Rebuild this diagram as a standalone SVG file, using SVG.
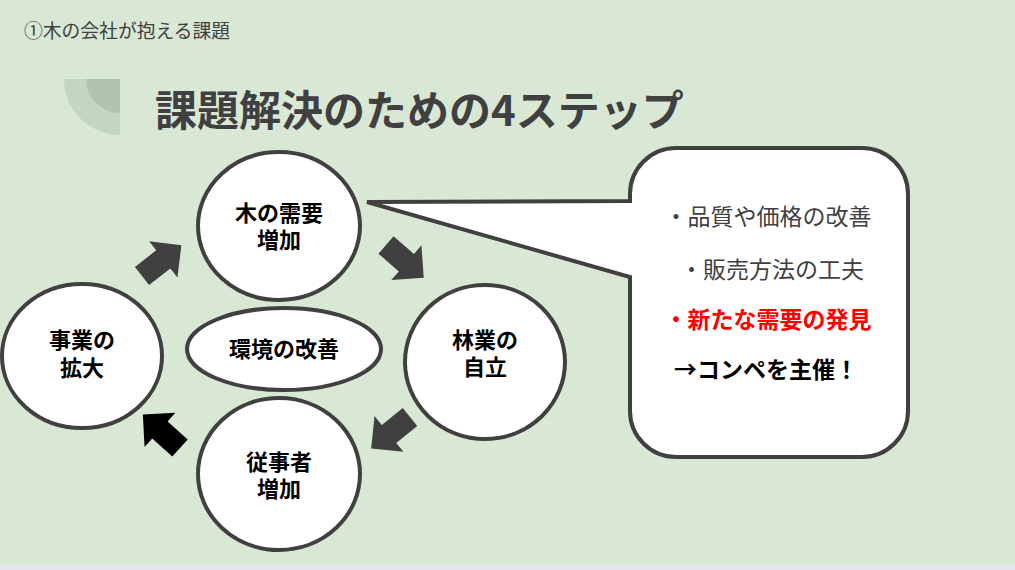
<svg xmlns="http://www.w3.org/2000/svg" width="1015" height="570" viewBox="0 0 1015 570">
<style>
.node{fill:#fff;stroke:#404040;stroke-width:4}
.nt{font-family:"Noto Sans CJK JP","Noto Sans",sans-serif;font-size:22px;font-weight:700;fill:#000;text-anchor:middle}
.ct{font-family:"Noto Sans CJK JP","Noto Sans",sans-serif;font-size:23px;text-anchor:middle}
.arr{fill:#404040}
</style>
<defs>
<path id="blk" d="M0,-11.5 L27,-11.5 L27,-23 L50,0 L27,23 L27,11.5 L0,11.5 Z"/>
</defs>
<rect x="0" y="0" width="1015" height="570" fill="#d9e8d4"/>
<rect x="0" y="565" width="1015" height="5" fill="#e2e5ea"/>
<path d="M64,79 H120 V135 A56,56 0 0 1 64,79 Z" fill="#c3d6c0"/>
<path d="M86,79 H120 V113 A34,34 0 0 1 86,79 Z" fill="#b1c4ae"/>
<text x="24" y="38" font-family="'Noto Sans CJK JP','Noto Sans',sans-serif" font-size="18.8" fill="#404040">①木の会社が抱える課題</text>
<text x="155" y="126" font-family="'Noto Sans CJK JP','Noto Sans',sans-serif" font-size="42" font-weight="700" fill="#404040">課題解決のための4ステップ</text>

<g id="connectors">
<use href="#blk" class="arr" transform="translate(142,276) rotate(-38)"/>
<use href="#blk" class="arr" transform="translate(386,245) rotate(41)"/>
<use href="#blk" class="arr" transform="translate(410,417) rotate(141)"/>
<use href="#blk" fill="#000" transform="translate(180,448) rotate(-138)"/>
</g>

<g id="callout">
<path d="M676,148 H862 A46,46 0 0 1 908,194 V411 A46,46 0 0 1 862,457 H676 A46,46 0 0 1 630,411 V277 L367,202 L630,201 V194 A46,46 0 0 1 676,148 Z" class="node"/>
<text class="ct" x="768" y="225" fill="#404040">・品質や価格の改善</text>
<text class="ct" x="772" y="278" fill="#404040">・販売方法の工夫</text>
<text class="ct" x="768" y="328" fill="#ff0000" font-weight="700">・新たな需要の発見</text>
<text class="ct" x="766" y="378" fill="#000" font-weight="700">→コンペを主催！</text>
</g>

<g id="node-demand">
<ellipse class="node" cx="279" cy="226" rx="81" ry="74"/>
<text class="nt"><tspan x="279" y="221">木の需要</tspan><tspan x="279" y="248">増加</tspan></text>
</g>
<g id="node-forestry">
<ellipse class="node" cx="485" cy="362" rx="80" ry="77"/>
<text class="nt"><tspan x="485" y="348">林業の</tspan><tspan x="485" y="375">自立</tspan></text>
</g>
<g id="node-workers">
<ellipse class="node" cx="279" cy="474" rx="81" ry="76"/>
<text class="nt"><tspan x="279" y="470">従事者</tspan><tspan x="279" y="497">増加</tspan></text>
</g>
<g id="node-business">
<ellipse class="node" cx="82" cy="356" rx="80" ry="72"/>
<text class="nt"><tspan x="82" y="348">事業の</tspan><tspan x="82" y="376">拡大</tspan></text>
</g>
<g id="node-environment">
<ellipse class="node" cx="284" cy="349" rx="97" ry="41"/>
<text class="nt" x="284" y="357">環境の改善</text>
</g>
</svg>
